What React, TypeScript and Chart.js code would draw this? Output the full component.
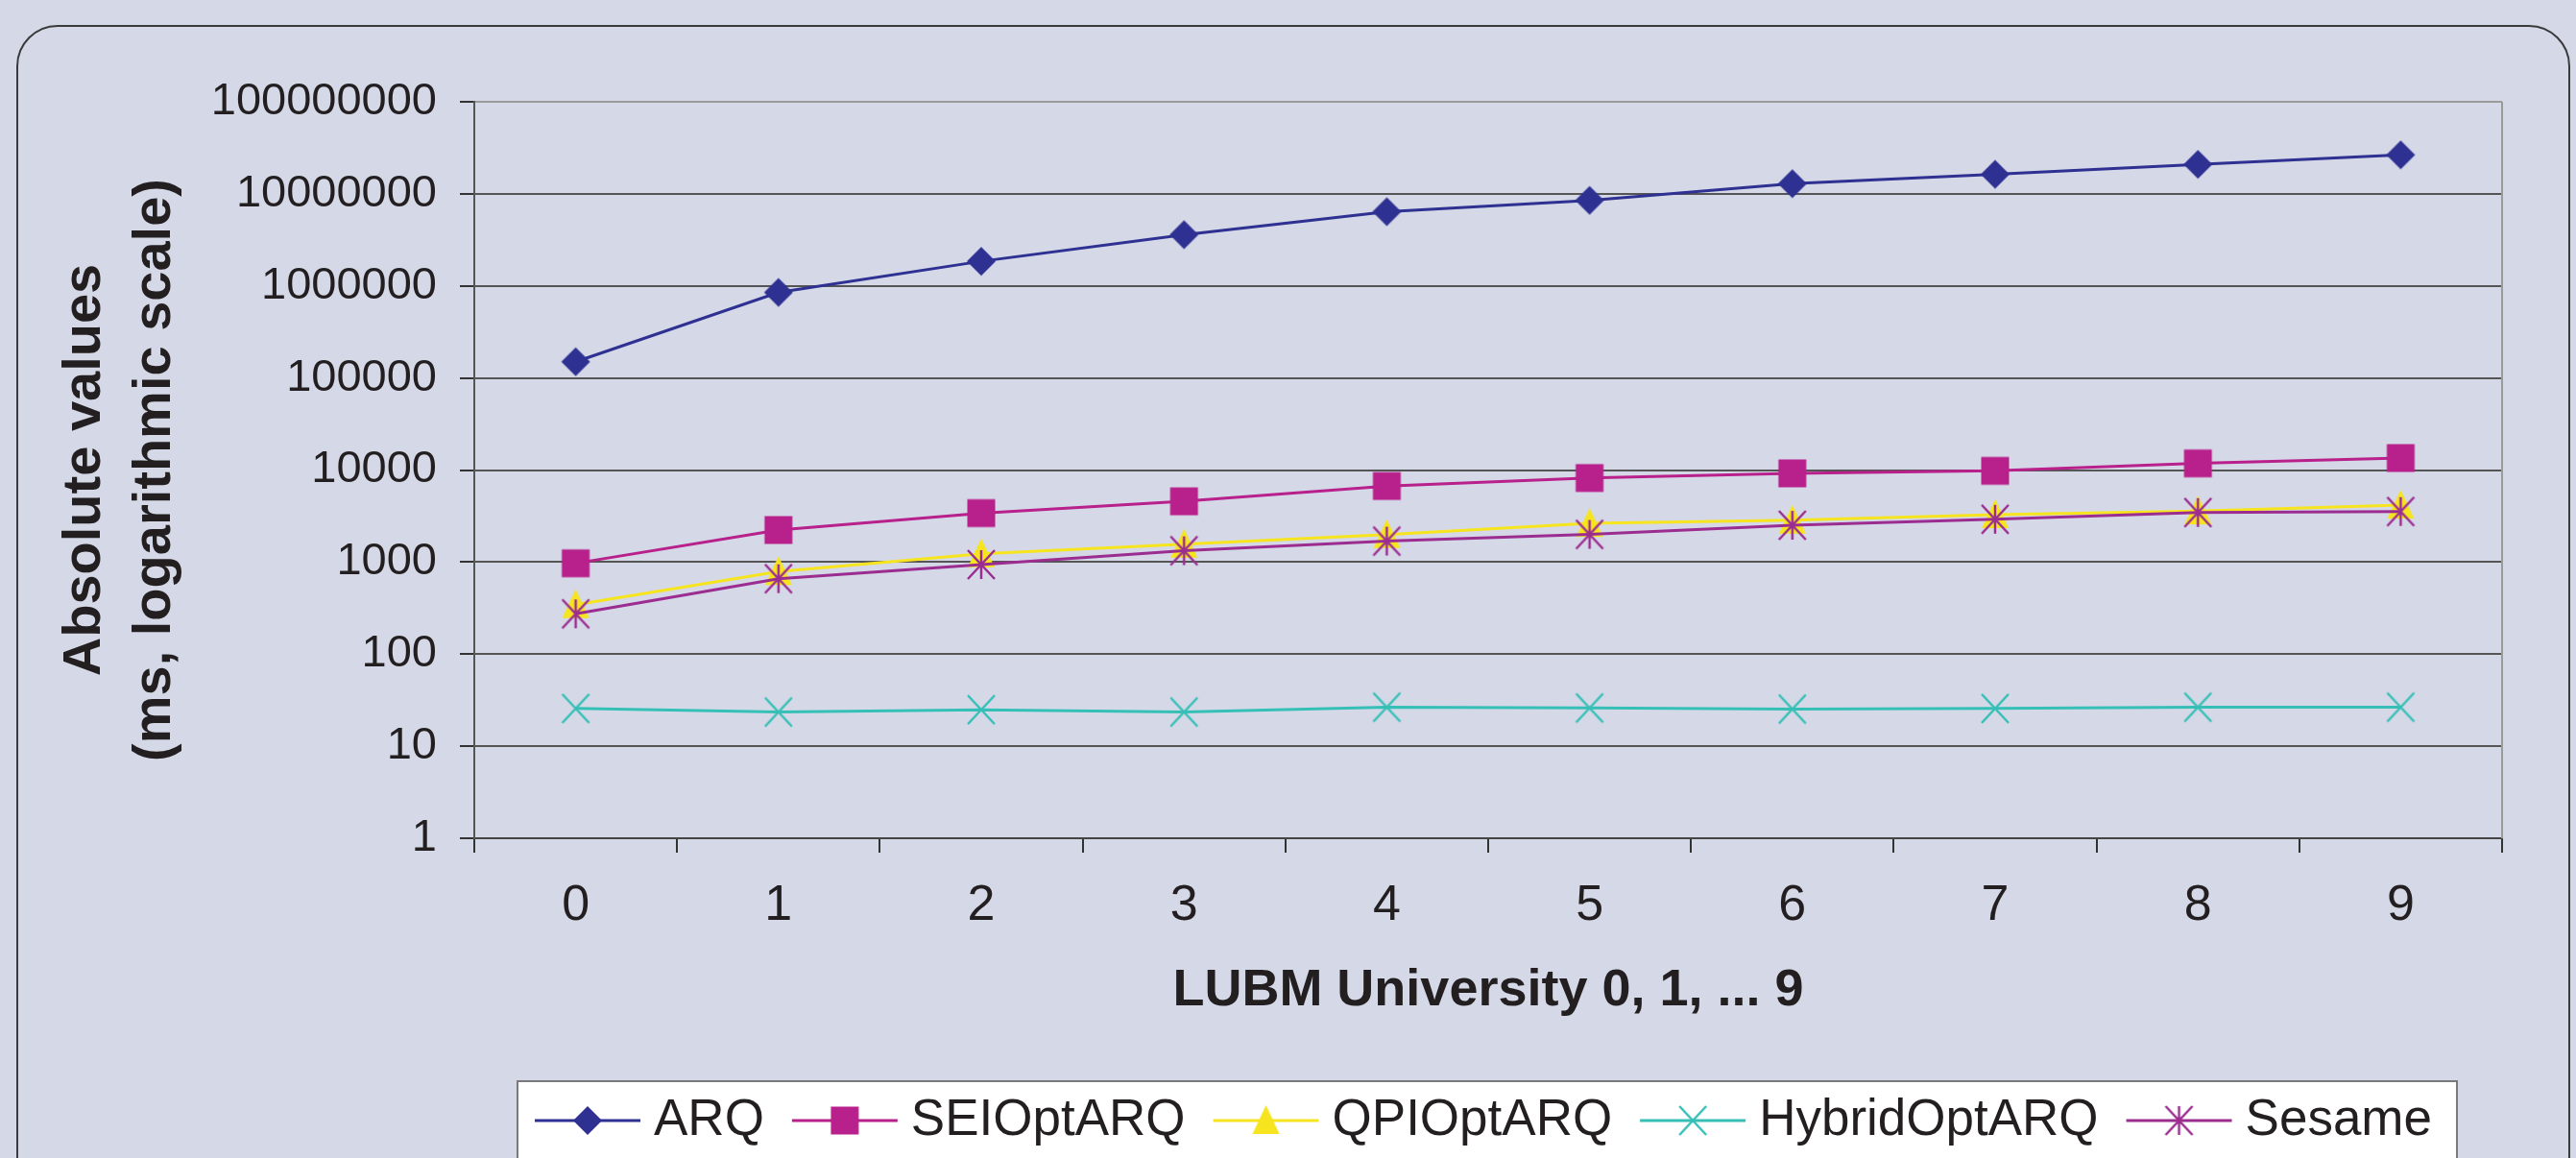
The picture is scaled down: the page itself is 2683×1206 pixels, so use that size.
import React, { useEffect, useRef } from 'react';
import { Chart, registerables } from 'chart.js';

Chart.register(...registerables);

const categories = ['0', '1', '2', '3', '4', '5', '6', '7', '8', '9'];
const arqValues = [150000, 850000, 1850000, 3600000, 6400000, 8500000, 12900000, 16300000, 20900000, 26500000];
const seiValues = [970, 2230, 3400, 4570, 6700, 8200, 9200, 9800, 11800, 13500];
const qpiValues = [345, 790, 1230, 1560, 1990, 2630, 2850, 3270, 3590, 4150];
const hybridValues = [25.7, 23.5, 24.9, 23.5, 26.5, 26.0, 25.3, 25.7, 26.5, 26.5];
const sesameValues = [274, 660, 940, 1330, 1690, 2000, 2510, 2920, 3450, 3540];
const yTickValues = [1, 10, 100, 1000, 10000, 100000, 1000000, 10000000, 100000000];
const seriesNames = ['ARQ', 'SEIOptARQ', 'QPIOptARQ', 'HybridOptARQ', 'Sesame'];
const seriesColors = ['#2e3192', '#b8208b', '#f6e41e', '#36bfb6', '#9b2d91'];
const seriesMarkers = ['diamond', 'square', 'triangle', 'x', 'star'];
const yTitle = ['Absolute values', '(ms, logarithmic scale)'];
const xTitle = 'LUBM University 0, 1, ... 9';

const FONT = '"Liberation Sans", Arial, Helvetica, sans-serif';
const TEXT = '#231f20';
const BG = '#d5d9e7';

function makeMarker(kind: string, color: string): HTMLCanvasElement {
  const c = document.createElement('canvas');
  const s = 36;
  c.width = s;
  c.height = s;
  const g = c.getContext('2d') as CanvasRenderingContext2D;
  const m = s / 2;
  g.fillStyle = color;
  g.strokeStyle = color;
  g.lineWidth = 2.5;
  g.lineCap = 'butt';
  if (kind === 'diamond') {
    g.beginPath();
    g.moveTo(m, m - 15);
    g.lineTo(m + 15, m);
    g.lineTo(m, m + 15);
    g.lineTo(m - 15, m);
    g.closePath();
    g.fill();
  } else if (kind === 'square') {
    g.fillRect(m - 14.5, m - 14.5, 29, 29);
  } else if (kind === 'triangle') {
    g.beginPath();
    g.moveTo(m, m - 16);
    g.lineTo(m + 14, m + 14);
    g.lineTo(m - 14, m + 14);
    g.closePath();
    g.fill();
  } else if (kind === 'x' || kind === 'star') {
    g.beginPath();
    g.moveTo(m - 14, m - 15);
    g.lineTo(m + 14, m + 15);
    g.moveTo(m + 14, m - 15);
    g.lineTo(m - 14, m + 15);
    if (kind === 'star') {
      g.moveTo(m, m - 15);
      g.lineTo(m, m + 15);
    }
    g.stroke();
  }
  return c;
}

const backgroundPlugin = {
  id: 'bgFrame',
  beforeDraw(chart: any) {
    const ctx = chart.ctx as CanvasRenderingContext2D;
    ctx.save();
    ctx.fillStyle = BG;
    ctx.fillRect(0, 0, chart.width, chart.height);
    ctx.strokeStyle = '#3a3a3a';
    ctx.lineWidth = 2;
    const x0 = 18, y0 = 27, x1 = 2676, y1 = 1300, r = 42;
    ctx.beginPath();
    ctx.moveTo(x0, y1);
    ctx.lineTo(x0, y0 + r);
    ctx.arcTo(x0, y0, x0 + r, y0, r);
    ctx.lineTo(x1 - r, y0);
    ctx.arcTo(x1, y0, x1, y0 + r, r);
    ctx.lineTo(x1, y1);
    ctx.stroke();
    ctx.restore();
  },
  afterDatasetsDraw(chart: any) {
    const ctx = chart.ctx as CanvasRenderingContext2D;
    const a = chart.chartArea;
    ctx.save();
    ctx.strokeStyle = '#9a9a9a';
    ctx.lineWidth = 2;
    ctx.beginPath();
    ctx.moveTo(a.right, a.top);
    ctx.lineTo(a.right, a.bottom);
    ctx.stroke();
    ctx.restore();
  },
};

const legendPlugin = {
  id: 'lineLegend',
  afterDraw(chart: any) {
    const ctx = chart.ctx as CanvasRenderingContext2D;
    ctx.save();
    const bx = 539, by = 1126, bw = 2020;
    ctx.fillStyle = '#ffffff';
    ctx.fillRect(bx, by, bw, 200);
    ctx.strokeStyle = '#7a7a7a';
    ctx.lineWidth = 2;
    ctx.strokeRect(bx, by, bw, 200);
    ctx.font = `53px ${FONT}`;
    ctx.textBaseline = 'middle';
    ctx.textAlign = 'left';
    let x = 557;
    const y = 1167;
    chart.data.datasets.forEach((ds: any) => {
      ctx.strokeStyle = ds.borderColor;
      ctx.lineWidth = 3;
      ctx.beginPath();
      ctx.moveTo(x, y);
      ctx.lineTo(x + 110, y);
      ctx.stroke();
      const img = ds.pointStyle as HTMLCanvasElement;
      ctx.drawImage(img, x + 55 - img.width / 2, y - img.height / 2);
      x += 110 + 14;
      ctx.fillStyle = TEXT;
      ctx.fillText(ds.label, x, y);
      x += ctx.measureText(ds.label).width + 29;
    });
    ctx.restore();
  },
};

export default function App() {
  const canvasRef = useRef<HTMLCanvasElement | null>(null);

  useEffect(() => {
    if (!canvasRef.current) return;
    const seriesData = [arqValues, seiValues, qpiValues, hybridValues, sesameValues];
    const datasets = seriesNames.map((name, i) => ({
      label: name,
      data: seriesData[i],
      borderColor: seriesColors[i],
      backgroundColor: seriesColors[i],
      borderWidth: 3,
      pointStyle: makeMarker(seriesMarkers[i], seriesColors[i]),
      pointRadius: 10,
      pointHoverRadius: 10,
      tension: 0,
      fill: false,
      order: seriesNames.length - i,
    }));

    const chart = new Chart(canvasRef.current, {
      type: 'line',
      data: { labels: categories, datasets },
      plugins: [backgroundPlugin, legendPlugin],
      options: {
        animation: false,
        responsive: false,
        devicePixelRatio: 1,
        events: [],
        layout: { padding: { left: 0, top: 106, right: 77, bottom: 133 } },
        plugins: {
          legend: { display: false },
          tooltip: { enabled: false },
          title: { display: false },
        },
        scales: {
          x: {
            type: 'category',
            offset: true,
            grid: {
              offset: true,
              drawOnChartArea: false,
              drawTicks: true,
              tickLength: 15,
              color: '#333333',
              lineWidth: 2,
            },
            border: { display: true, color: '#444444', width: 2 },
            ticks: {
              color: TEXT,
              font: { family: FONT, size: 52 },
              padding: 24,
              maxRotation: 0,
              autoSkip: false,
            },
            title: {
              display: true,
              text: xTitle,
              color: TEXT,
              font: { family: FONT, size: 54, weight: 'bold' },
              padding: { top: 0, bottom: 8 },
            },
            afterFit: (scale: any) => {
              scale.height = 200;
            },
          },
          y: {
            type: 'logarithmic',
            min: 1,
            max: 100000000,
            afterBuildTicks: (scale: any) => {
              scale.ticks = yTickValues.map((v) => ({ value: v }));
            },
            grid: {
              color: (c: any) => (c.tick && c.tick.value === 100000000 ? '#9a9a9a' : '#555555'),
              lineWidth: 2,
              drawTicks: true,
              tickLength: 15,
              tickColor: '#333333',
            },
            border: { display: true, color: '#555555', width: 2 },
            ticks: {
              color: TEXT,
              font: { family: FONT, size: 47 },
              padding: 24,
              autoSkip: false,
              callback: (v: any) => String(v),
            },
            title: {
              display: true,
              text: yTitle,
              color: TEXT,
              font: { family: FONT, size: 56, weight: 'bold', lineHeight: 1.3 },
              padding: { top: 52, bottom: 0 },
            },
            afterFit: (scale: any) => {
              scale.width = 494;
            },
          },
        },
      } as any,
    });
    return () => chart.destroy();
  }, []);

  return (
    <div
      style={{
        position: 'absolute',
        left: 0,
        top: 0,
        width: 2683,
        height: 1206,
        background: BG,
        overflow: 'hidden',
      }}
    >
      <canvas ref={canvasRef} width={2683} height={1206} style={{ display: 'block', width: 2683, height: 1206 }} />
    </div>
  );
}
